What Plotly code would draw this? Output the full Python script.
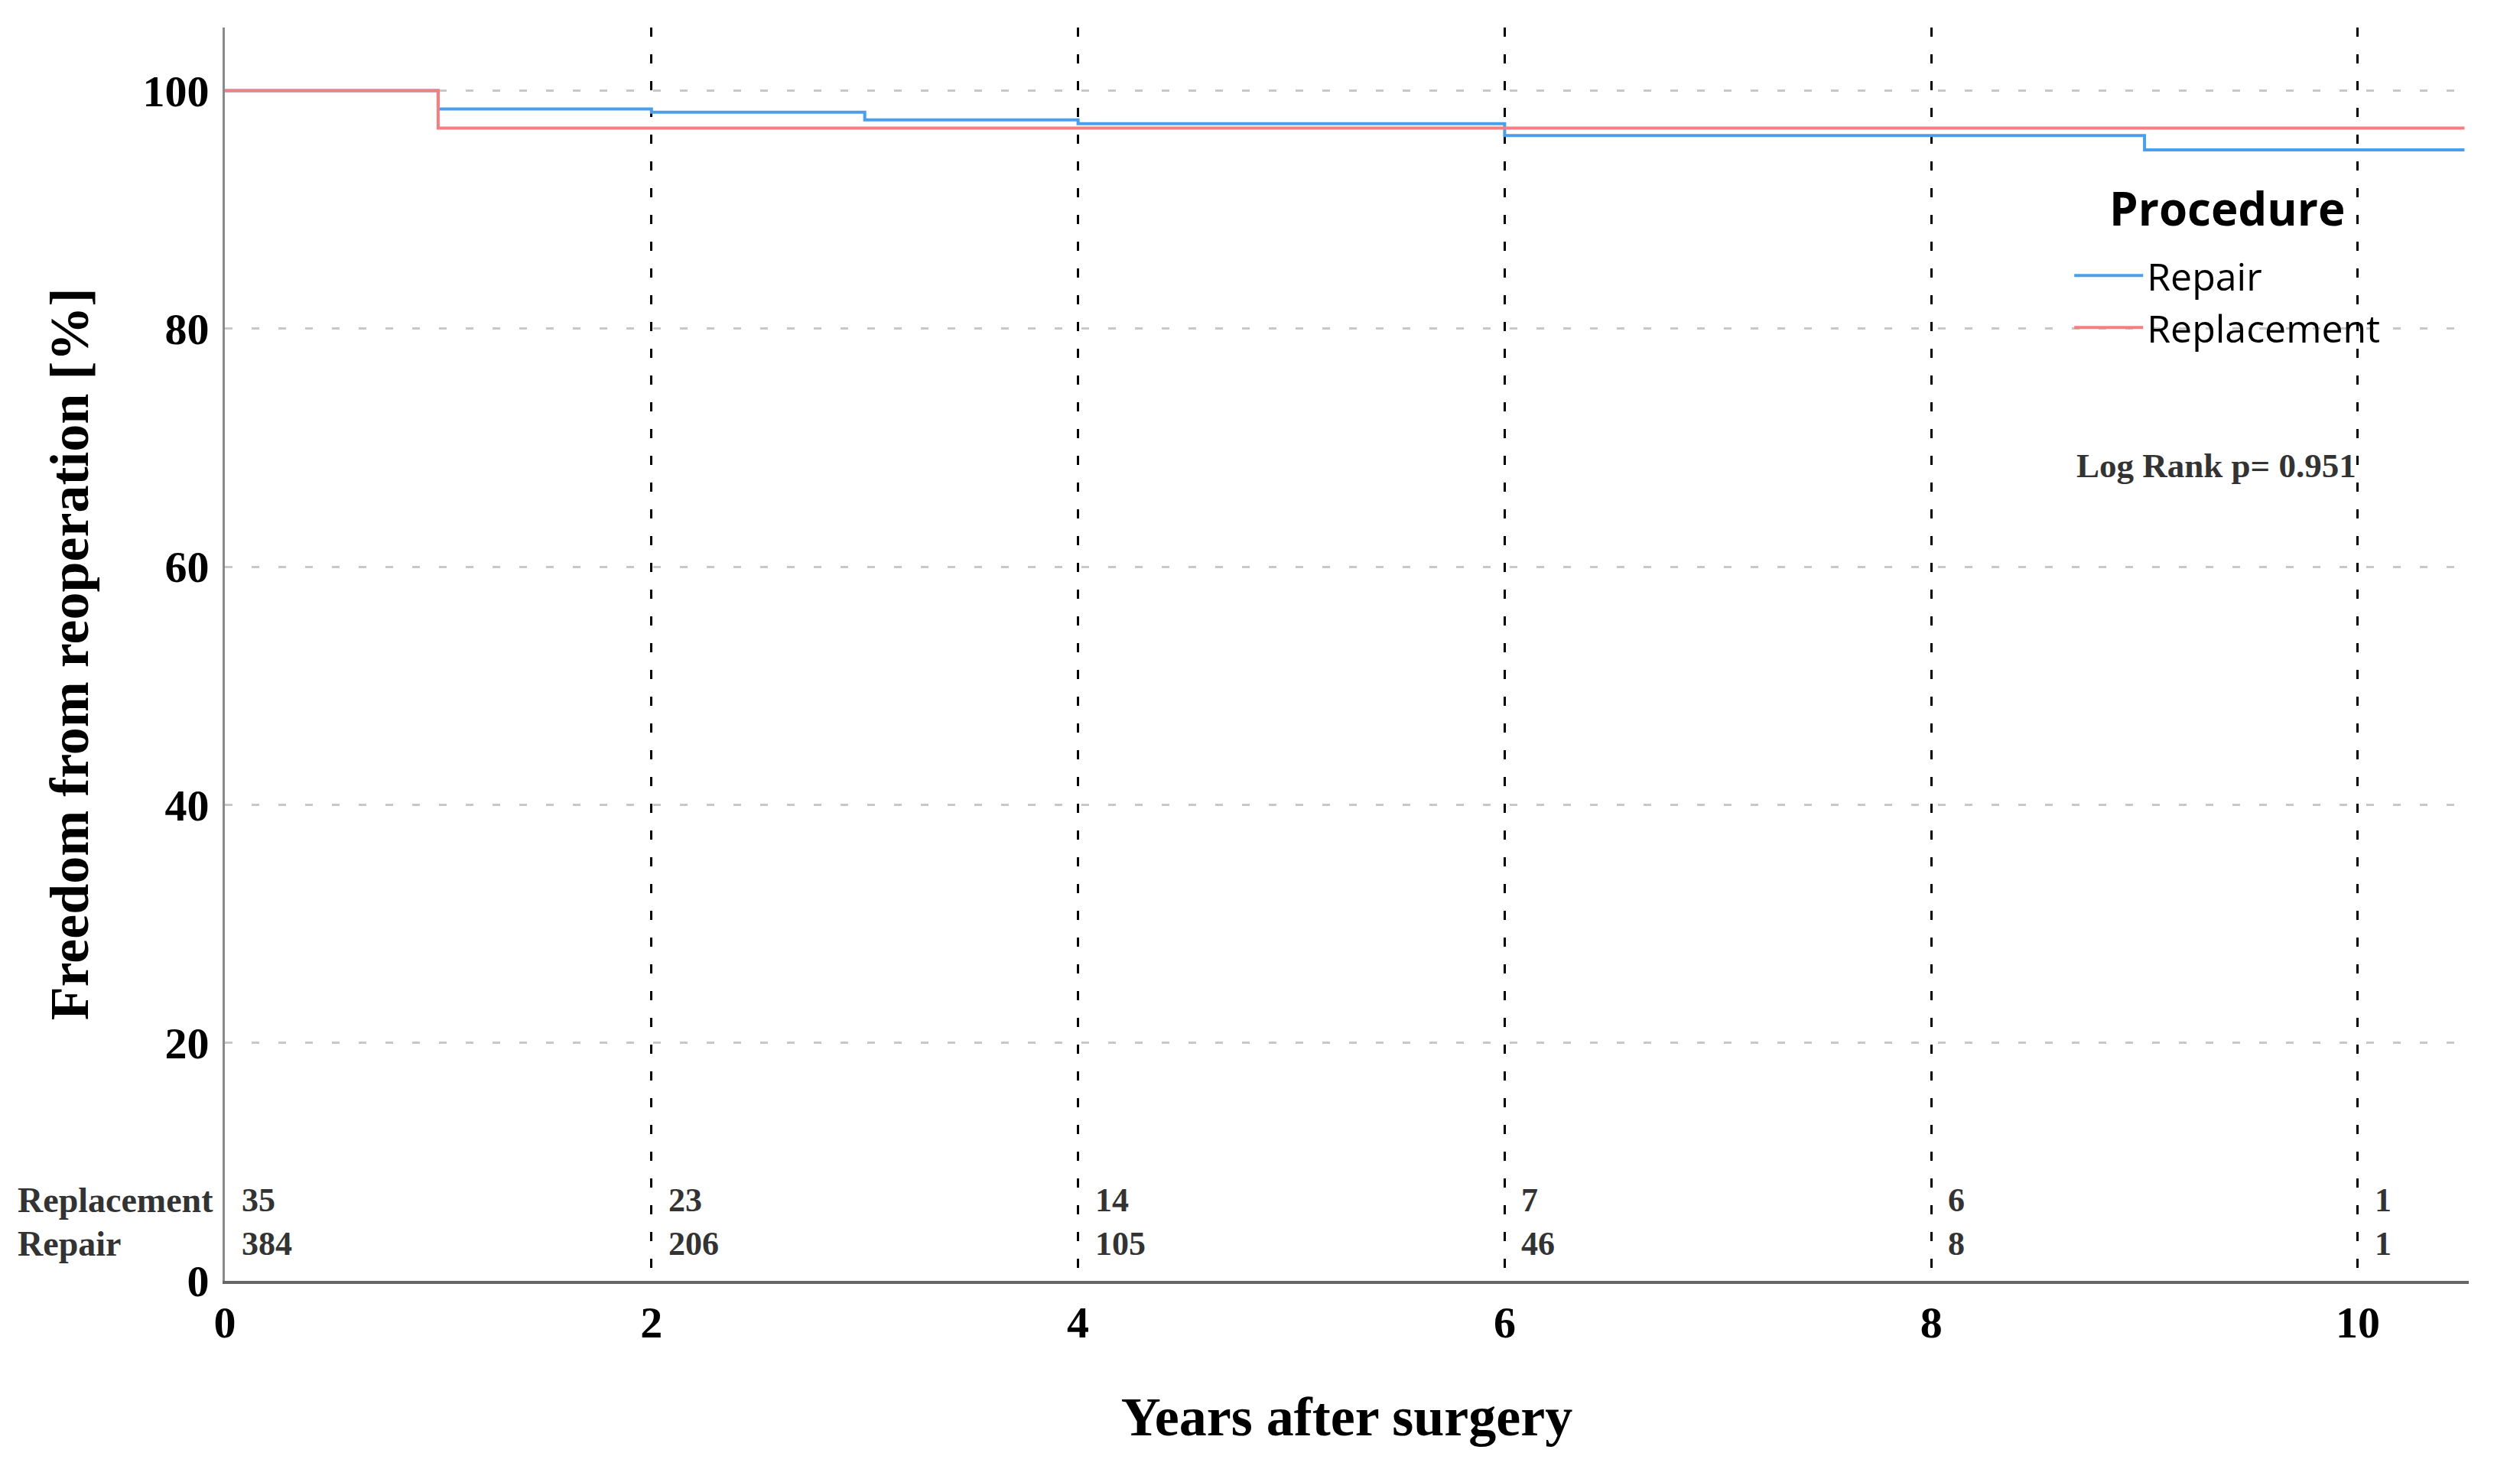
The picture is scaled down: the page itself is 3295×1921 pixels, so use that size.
import plotly.graph_objects as go

# ---- data ----
repair_time = [0, 1, 2, 3, 4, 6, 9, 10.5]
repair_surv = [100, 98.46, 98.18, 97.54, 97.22, 96.22, 95.02, 95.02]
replacement_time = [0, 1, 10.5]
replacement_surv = [100, 96.85, 96.85]

risk_times = [0, 2, 4, 6, 8, 10]
risk_replacement = [35, 23, 14, 7, 6, 1]
risk_repair = [384, 206, 105, 46, 8, 1]

x_ticks = [0, 2, 4, 6, 8, 10]
y_ticks = [0, 20, 40, 60, 80, 100]
log_rank_text = "Log Rank p= 0.951"
legend_title = "Procedure"

BLUE = "#4b9fea"
RED = "#f57f7f"
SERIF = "Liberation Serif"
SANS = "Open Sans"

fig = go.Figure()
fig.add_trace(go.Scatter(x=repair_time, y=repair_surv, mode="lines", name="Repair",
                         line=dict(color=BLUE, width=4, shape="hv")))
fig.add_trace(go.Scatter(x=replacement_time, y=replacement_surv, mode="lines", name="Replacement",
                         line=dict(color=RED, width=4, shape="hv")))

annotations = []
row_y = {"Replacement": 6.75, "Repair": 3.1}
for label, counts in (("Replacement", risk_replacement), ("Repair", risk_repair)):
    annotations.append(dict(x=-0.093, xref="paper", y=row_y[label], yref="y", text=label,
                            showarrow=False, xanchor="left", yanchor="middle",
                            font=dict(family=SERIF, size=46, color="#333333", weight="bold")))
    for t, n in zip(risk_times, counts):
        annotations.append(dict(x=t, xref="x", y=row_y[label], yref="y", text=str(n),
                                showarrow=False, xanchor="left", yanchor="middle", xshift=20,
                                font=dict(family=SERIF, size=44, color="#333333", weight="bold")))

annotations.append(dict(x=10.0, xref="x", y=68.5, yref="y", text=log_rank_text,
                        showarrow=False, xanchor="right", yanchor="middle",
                        font=dict(family=SERIF, size=45, color="#333333", weight="bold")))

annotations.append(dict(x=0.8923, xref="paper", y=0.856, yref="paper", text=legend_title,
                        showarrow=False, xanchor="center", yanchor="middle",
                        font=dict(family=SANS, size=60, color="black", weight="bold")))

fig.update_layout(
    width=3295, height=1921,
    margin=dict(l=286, r=75, t=28, b=254, autoexpand=False),
    paper_bgcolor="white", plot_bgcolor="white",
    showlegend=True,
    legend=dict(
        x=0.8225, y=0.826, xanchor="left", yanchor="top",
        bgcolor="rgba(0,0,0,0)",
        font=dict(family=SANS, size=50, color="black"),
        itemwidth=90, tracegroupgap=0,
    ),
    annotations=annotations,
    xaxis=dict(
        range=[0, 10.52], tickvals=x_ticks, ticktext=[str(v) for v in x_ticks],
        showgrid=True, gridcolor="black", gridwidth=3, griddash="12px,23px",
        zeroline=False, showline=True, linecolor="#666666", linewidth=4,
        ticks="",
        tickfont=dict(family=SERIF, size=58, color="black", weight="bold"),
        title=dict(text="Years after surgery", standoff=67,
                   font=dict(family=SERIF, size=72, color="black", weight="bold")),
    ),
    yaxis=dict(
        range=[0, 105.3], tickvals=y_ticks, ticktext=[str(v) for v in y_ticks],
        showgrid=True, gridcolor="#c8c8c8", gridwidth=3, griddash="10px,25px",
        zeroline=False, showline=True, linecolor="#8a8a8a", linewidth=3,
        ticks="outside", ticklen=6, tickcolor="rgba(0,0,0,0)",
        tickfont=dict(family=SERIF, size=58, color="black", weight="bold"),
        title=dict(text="Freedom from reoperation [%]", standoff=48,
                   font=dict(family=SERIF, size=72, color="black", weight="bold")),
    ),
)

fig.write_html("out.html")
